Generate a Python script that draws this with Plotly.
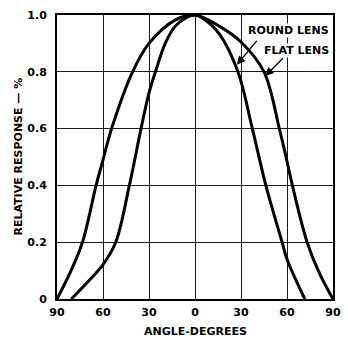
import plotly.graph_objects as go

# Data (angle in degrees, negative = left side)
flat_angle = [-90, -81.7, -73.4, -64.5, -60, -54.4, -40.7, -30, -13, 0, 16.3, 30, 45, 55, 60, 63.5, 73.1, 81.2, 90]
flat_resp = [0, 0.09, 0.2, 0.4, 0.49, 0.6, 0.8, 0.90, 0.982, 1.0, 0.959, 0.905, 0.8, 0.6, 0.485, 0.4, 0.2, 0.09, 0]

round_angle = [-80.7, -70, -60, -51.7, -42.8, -35.2, -30, -25.8, -19.4, -13, -6, 0, 6, 16.3, 28, 37.4, 46.2, 56.8, 60, 71.6]
round_resp = [0, 0.06, 0.121, 0.2, 0.4, 0.6, 0.726, 0.8, 0.9, 0.96, 0.99, 1.0, 0.985, 0.93, 0.8, 0.6, 0.4, 0.2, 0.14, 0]

x_tickvals = [-90, -60, -30, 0, 30, 60, 90]
x_ticktext = ["90", "60", "30", "0", "30", "60", "90"]
y_tickvals = [0, 0.2, 0.4, 0.6, 0.8, 1.0]
y_ticktext = ["0", "0.2", "0.4", "0.6", "0.8", "1.0"]

FONT = "DejaVu Sans"

fig = go.Figure()
fig.add_trace(go.Scatter(x=flat_angle, y=flat_resp, mode="lines",
                         line=dict(color="black", width=3, shape="spline", smoothing=1.0),
                         name="FLAT LENS", showlegend=False, hoverinfo="skip"))
fig.add_trace(go.Scatter(x=round_angle, y=round_resp, mode="lines",
                         line=dict(color="black", width=3, shape="spline", smoothing=1.0),
                         name="ROUND LENS", showlegend=False, hoverinfo="skip"))

axis_common = dict(showgrid=True, gridcolor="#1a1a1a", gridwidth=1.2,
                   showline=True, linecolor="black", linewidth=2, mirror=True,
                   zeroline=False, ticks="",
                   tickfont=dict(family=FONT, size=11, color="black", weight="bold"))

fig.update_xaxes(range=[-90, 90], tickmode="array", tickvals=x_tickvals, ticktext=x_ticktext,
                 ticklabelstandoff=2, **axis_common)
fig.update_yaxes(range=[0, 1.0], tickmode="array", tickvals=y_tickvals, ticktext=y_ticktext,
                 ticklabelstandoff=6, **axis_common)

annots = [
    dict(text="ANGLE-DEGREES", xref="paper", yref="paper", x=0.5, y=-0.116,
         xanchor="center", yanchor="middle", showarrow=False,
         font=dict(family=FONT, size=11, color="black", weight="bold")),
    dict(text="RELATIVE RESPONSE — %", xref="paper", yref="paper", x=-0.143, y=0.5,
         xanchor="center", yanchor="middle", showarrow=False, textangle=-90,
         font=dict(family=FONT, size=11, color="black", weight="bold")),
    dict(text="ROUND LENS", xref="paper", yref="paper", x=0.837, y=0.944,
         xanchor="center", yanchor="middle", showarrow=False, bgcolor="white", borderpad=0,
         font=dict(family=FONT, size=11, color="black", weight="bold")),
    dict(text="FLAT LENS", xref="paper", yref="paper", x=0.869, y=0.874,
         xanchor="center", yanchor="middle", showarrow=False, bgcolor="white", borderpad=0,
         font=dict(family=FONT, size=11, color="black", weight="bold")),
    dict(text="", x=27.3, y=0.825, ax=41.1, ay=0.914, xref="x", yref="y", axref="x", ayref="y",
         showarrow=True, arrowhead=2, arrowsize=1.3, arrowwidth=1.3, arrowcolor="black"),
    dict(text="", x=45.8, y=0.785, ax=58.3, ay=0.853, xref="x", yref="y", axref="x", ayref="y",
         showarrow=True, arrowhead=2, arrowsize=1.3, arrowwidth=1.3, arrowcolor="black"),
]

fig.update_layout(width=348, height=339, margin=dict(l=57, r=7, t=15, b=40),
                  paper_bgcolor="white", plot_bgcolor="white",
                  annotations=annots, showlegend=False)

fig.write_html("out.html")
